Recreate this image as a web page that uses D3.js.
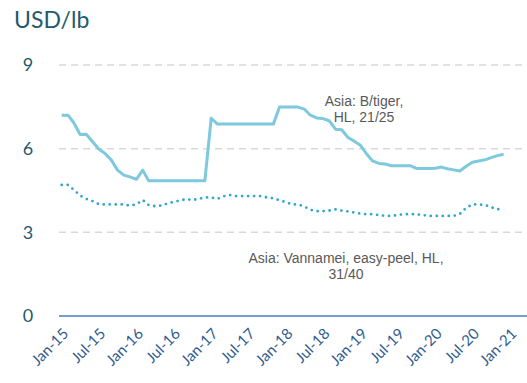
<!DOCTYPE html>
<html>
<head>
<meta charset="utf-8">
<script src="https://cdn.jsdelivr.net/npm/d3@7"></script>
<style>
  html, body { margin: 0; padding: 0; background: #ffffff; }
  svg { display: block; }
</style>
</head>
<body>
<svg id="chart" width="527" height="383"></svg>
<script>
// Monthly shrimp prices, Jan 2015 onward (USD per lb)
const startMonth = "2015-01";
const tigerPrices = [
  7.20, 7.20, 6.93, 6.51, 6.52, 6.25, 5.99, 5.83, 5.59, 5.23, 5.05, 4.99,
  4.90, 5.23, 4.85, 4.85, 4.85, 4.85, 4.85, 4.85, 4.85, 4.85, 4.85, 4.85,
  7.09, 6.88, 6.88, 6.88, 6.88, 6.88, 6.88, 6.88, 6.88, 6.88, 6.88, 7.49,
  7.49, 7.49, 7.49, 7.42, 7.20, 7.10, 7.08, 7.00, 6.70, 6.68, 6.40, 6.27,
  6.12, 5.80, 5.56, 5.47, 5.45, 5.39, 5.39, 5.39, 5.39, 5.29, 5.29, 5.29,
  5.30, 5.34, 5.28, 5.24, 5.20, 5.37, 5.51, 5.56, 5.60, 5.68, 5.75, 5.80
];
const vannameiPrices = [
  4.70, 4.70, 4.53, 4.32, 4.20, 4.12, 4.01, 4.00, 4.00, 4.00, 4.00, 3.96,
  4.00, 4.16, 3.98, 3.94, 3.96, 4.03, 4.09, 4.14, 4.19, 4.16, 4.20, 4.25,
  4.25, 4.20, 4.29, 4.34, 4.30, 4.30, 4.30, 4.30, 4.30, 4.25, 4.22, 4.15,
  4.08, 4.00, 4.00, 3.93, 3.81, 3.76, 3.76, 3.78, 3.82, 3.78, 3.75, 3.71,
  3.67, 3.65, 3.65, 3.62, 3.59, 3.59, 3.62, 3.65, 3.65, 3.65, 3.62, 3.59,
  3.59, 3.59, 3.59, 3.59, 3.66, 3.88, 4.00, 4.00, 3.98, 3.90, 3.82, 3.91
];
const yTicks = [0, 3, 6, 9];
const axisStart = "2015-01";
const axisEnd = "2021-01";
const unitLabel = "USD/lb";
const tigerLabel = ["Asia: B/tiger,", "HL, 21/25"];
const vannameiLabel = ["Asia: Vannamei, easy-peel, HL,", "31/40"];

const parseMonth = d3.timeParse("%Y-%m");
const start = parseMonth(startMonth);
const dates = tigerPrices.map((_, i) => d3.timeMonth.offset(start, i));

const svg = d3.select("#chart");
const plotLeft = 59, plotRight = 527;

const x = d3.scaleTime()
  .domain([parseMonth(axisStart), parseMonth(axisEnd)])
  .range([61.7, 510]);
const y = d3.scaleLinear().domain([0, 9]).range([316, 65]);

// Horizontal gridlines (dashed), skipping the zero baseline
svg.append("g")
  .selectAll("line")
  .data(yTicks.filter(v => v !== 0))
  .join("line")
  .attr("x1", plotLeft).attr("x2", plotRight)
  .attr("y1", d => y(d)).attr("y2", d => y(d))
  .attr("stroke", "#d9d9d9")
  .attr("stroke-width", 1.5)
  .attr("stroke-dasharray", "7,5");

// Baseline
svg.append("line")
  .attr("x1", plotLeft).attr("x2", plotRight)
  .attr("y1", y(0)).attr("y2", y(0))
  .attr("stroke", "#4a7ebb")
  .attr("stroke-width", 1.5);

// Y tick labels
svg.append("g")
  .selectAll("text")
  .data(yTicks)
  .join("text")
  .attr("x", 28)
  .attr("y", d => y(d))
  .attr("dy", "0.36em")
  .attr("text-anchor", "middle")
  .attr("font-family", "Lato, 'Open Sans', sans-serif")
  .attr("font-size", 18)
  .attr("fill", "#1f5b6c")
  .text(d => d);

// Unit title
svg.append("text")
  .attr("x", 14)
  .attr("y", 28)
  .attr("font-family", "Lato, 'Open Sans', sans-serif")
  .attr("font-size", 23)
  .attr("fill", "#1f5b6c")
  .text(unitLabel);

// X axis tick labels, rotated
const xTicks = x.ticks(d3.timeMonth.every(6));
const fmt = d3.timeFormat("%b-%y");
svg.append("g")
  .selectAll("text")
  .data(xTicks)
  .join("text")
  .attr("transform", d => `translate(${x(d) + 4},${331}) rotate(-45)`)
  .attr("text-anchor", "end")
  .attr("dy", "0.35em")
  .attr("font-family", "Lato, 'Open Sans', sans-serif")
  .attr("font-size", 15)
  .attr("fill", "#2f5c8f")
  .text(d => fmt(d));

const line = d3.line()
  .x((d, i) => x(dates[i]))
  .y(d => y(d));

// Vannamei series (dotted)
svg.append("path")
  .datum(vannameiPrices)
  .attr("d", line)
  .attr("fill", "none")
  .attr("stroke", "#2ea8cc")
  .attr("stroke-width", 2.8)
  .attr("stroke-linecap", "round")
  .attr("stroke-dasharray", "0,6");

// Black tiger series (solid)
svg.append("path")
  .datum(tigerPrices)
  .attr("d", line)
  .attr("fill", "none")
  .attr("stroke", "#7ec9dd")
  .attr("stroke-width", 3)
  .attr("stroke-linejoin", "round");

// Series annotations
function annotate(lines, cx, baseY) {
  svg.append("text")
    .attr("text-anchor", "middle")
    .attr("font-family", "'Liberation Sans', Arial, sans-serif")
    .attr("font-size", 14)
    .attr("fill", "#595959")
    .selectAll("tspan")
    .data(lines)
    .join("tspan")
    .attr("x", cx)
    .attr("y", (d, i) => baseY + i * 16)
    .text(d => d);
}
annotate(tigerLabel, 364, 106);
annotate(vannameiLabel, 346, 263);
</script>
</body>
</html>
